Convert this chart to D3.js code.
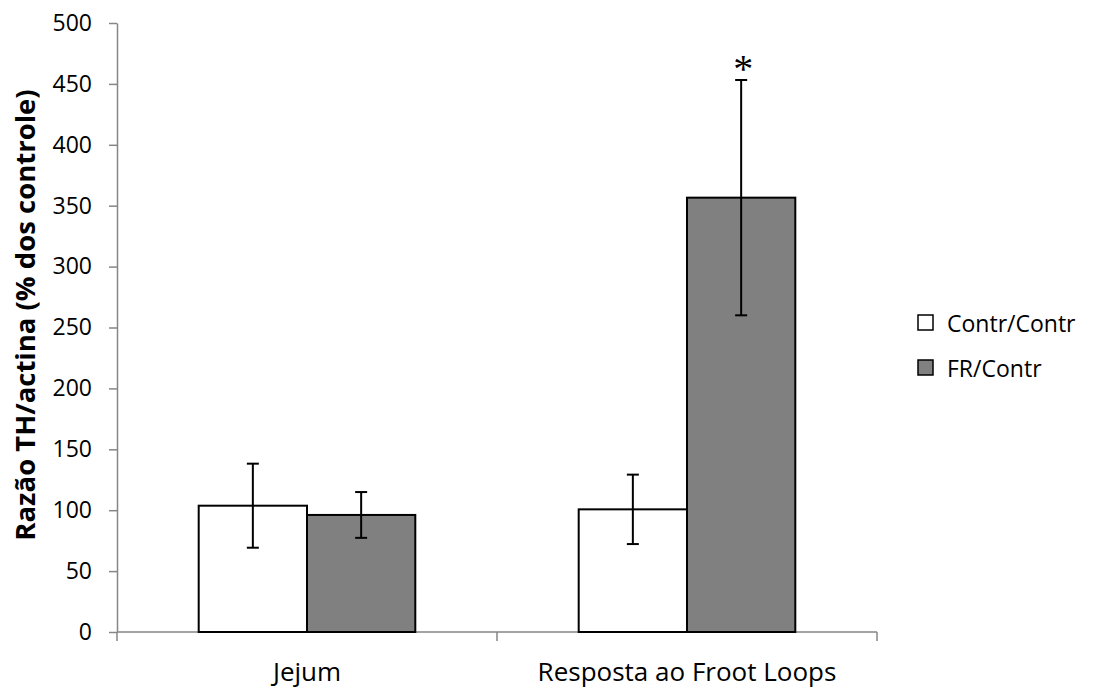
<!DOCTYPE html>
<html>
<head>
<meta charset="utf-8">
<script src="https://cdn.jsdelivr.net/npm/d3@7"></script>
<style>
    body { margin: 0; background: #fff; }
    text { font-family: "Open Sans", "Noto Sans", sans-serif; }
</style>
</head>
<body>
<div id="chart"></div>
<script>
"use strict";

// chart data
const categories = ["Jejum", "Resposta ao Froot Loops"];
const seriesNames = ["Contr/Contr", "FR/Contr"];
const contrValues = [103.7, 100.7];
const contrErrors = [34.5, 28.5];
const frValues = [96.1, 356.6];
const frErrors = [18.8, 96.6];
const yTicks = [0, 50, 100, 150, 200, 250, 300, 350, 400, 450, 500];
const significant = [null, "FR/Contr"]; // asterisk marks

const msm = {
    width: 1105,
    height: 688,
    left: 117,
    right: 877,
    top: 23,
    bottom: 632
}
const colors = { "Contr/Contr": "#ffffff", "FR/Contr": "#808080" };

// build rows for each bar from the arrays above
let rows = [];
categories.forEach((c, i) => {
    rows.push({ cat: c, series: seriesNames[0], value: contrValues[i], err: contrErrors[i] });
    rows.push({ cat: c, series: seriesNames[1], value: frValues[i], err: frErrors[i] });
});

let svg = d3.select("#chart")
    .append("svg")
    .attr("width", msm.width)
    .attr("height", msm.height);

// scales
let xScale = d3.scaleBand()
    .domain(categories)
    .range([msm.left, msm.right])
    .padding(0);

let gap = xScale.bandwidth() * 0.215;
let xSub = d3.scaleBand()
    .domain(seriesNames)
    .range([gap, xScale.bandwidth() - gap])
    .padding(0);

let yScale = d3.scaleLinear()
    .domain([0, 500])
    .range([msm.bottom, msm.top]);

// y axis
let yAxis = d3.axisLeft(yScale)
    .tickValues(yTicks)
    .tickSizeInner(8)
    .tickSizeOuter(0)
    .tickPadding(17);
let gy = svg.append("g")
    .attr("transform", "translate(" + msm.left + ",0)")
    .call(yAxis);
gy.select(".domain").attr("stroke", "#868686").attr("stroke-width", 1.5);
gy.selectAll(".tick line").attr("stroke", "#868686").attr("stroke-width", 1.5);
gy.selectAll(".tick text")
    .style("font-size", "23px")
    .attr("fill", "#000");

// x axis (labels centred on groups, ticks at group borders)
let xAxis = d3.axisBottom(xScale)
    .tickSize(0)
    .tickPadding(31);
let gx = svg.append("g")
    .attr("transform", "translate(0," + msm.bottom + ")")
    .call(xAxis);
gx.select(".domain").remove();
gx.selectAll(".tick text")
    .style("font-size", "26px")
    .attr("fill", "#000");

let borders = [msm.left].concat(categories.map(c => xScale(c) + xScale.bandwidth()));
gx.append("line")
    .attr("x1", msm.left).attr("x2", msm.right)
    .attr("y1", 0).attr("y2", 0)
    .attr("stroke", "#868686").attr("stroke-width", 1.5);
gx.selectAll(".border")
    .data(borders)
    .enter()
    .append("line")
    .attr("class", "border")
    .attr("x1", d => d).attr("x2", d => d)
    .attr("y1", 0).attr("y2", 9)
    .attr("stroke", "#868686").attr("stroke-width", 1.5);

// bars
svg.selectAll(".bar")
    .data(rows)
    .enter()
    .append("rect")
    .attr("class", "bar")
    .attr("x", d => xScale(d.cat) + xSub(d.series))
    .attr("y", d => yScale(d.value))
    .attr("width", xSub.bandwidth())
    .attr("height", d => yScale(0) - yScale(d.value))
    .attr("fill", d => colors[d.series])
    .attr("stroke", "#000")
    .attr("stroke-width", 2);

// error bars
let errG = svg.selectAll(".err")
    .data(rows)
    .enter()
    .append("g")
    .attr("class", "err")
    .attr("transform", d => "translate(" + (xScale(d.cat) + xSub(d.series) + xSub.bandwidth() / 2) + ",0)");
errG.append("line")
    .attr("x1", 0).attr("x2", 0)
    .attr("y1", d => yScale(d.value + d.err))
    .attr("y2", d => yScale(d.value - d.err))
    .attr("stroke", "#000").attr("stroke-width", 2);
errG.append("line")
    .attr("x1", -6).attr("x2", 6)
    .attr("y1", d => yScale(d.value + d.err))
    .attr("y2", d => yScale(d.value + d.err))
    .attr("stroke", "#000").attr("stroke-width", 2);
errG.append("line")
    .attr("x1", -6).attr("x2", 6)
    .attr("y1", d => yScale(d.value - d.err))
    .attr("y2", d => yScale(d.value - d.err))
    .attr("stroke", "#000").attr("stroke-width", 2);

// asterisk above the significant bar
categories.forEach((c, i) => {
    if (!significant[i]) return;
    let s = significant[i];
    let v = s == seriesNames[0] ? contrValues[i] + contrErrors[i] : frValues[i] + frErrors[i];
    svg.append("text")
        .attr("x", xScale(c) + xSub(s) + xSub.bandwidth() / 2 + 2)
        .attr("y", yScale(v) + 2)
        .attr("text-anchor", "middle")
        .style("font-family", "'Liberation Serif', serif")
        .style("font-size", "40px")
        .text("*");
});

// y axis title
svg.append("text")
    .attr("transform", "translate(35," + 315 + ") rotate(-90)")
    .attr("text-anchor", "middle")
    .style("font-size", "27.5px")
    .style("font-weight", "bold")
    .text("Razão TH/actina (% dos controle)");

// legend
let legend = svg.selectAll(".legend")
    .data(seriesNames)
    .enter()
    .append("g")
    .attr("class", "legend")
    .attr("transform", (d, i) => "translate(918," + (315 + i * 45) + ")");
legend.append("rect")
    .attr("width", 15)
    .attr("height", 15)
    .attr("fill", d => colors[d])
    .attr("stroke", "#000")
    .attr("stroke-width", 1.5);
legend.append("text")
    .attr("x", 29)
    .attr("y", 17)
    .style("font-size", "23px")
    .text(d => d);
</script>
</body>
</html>
